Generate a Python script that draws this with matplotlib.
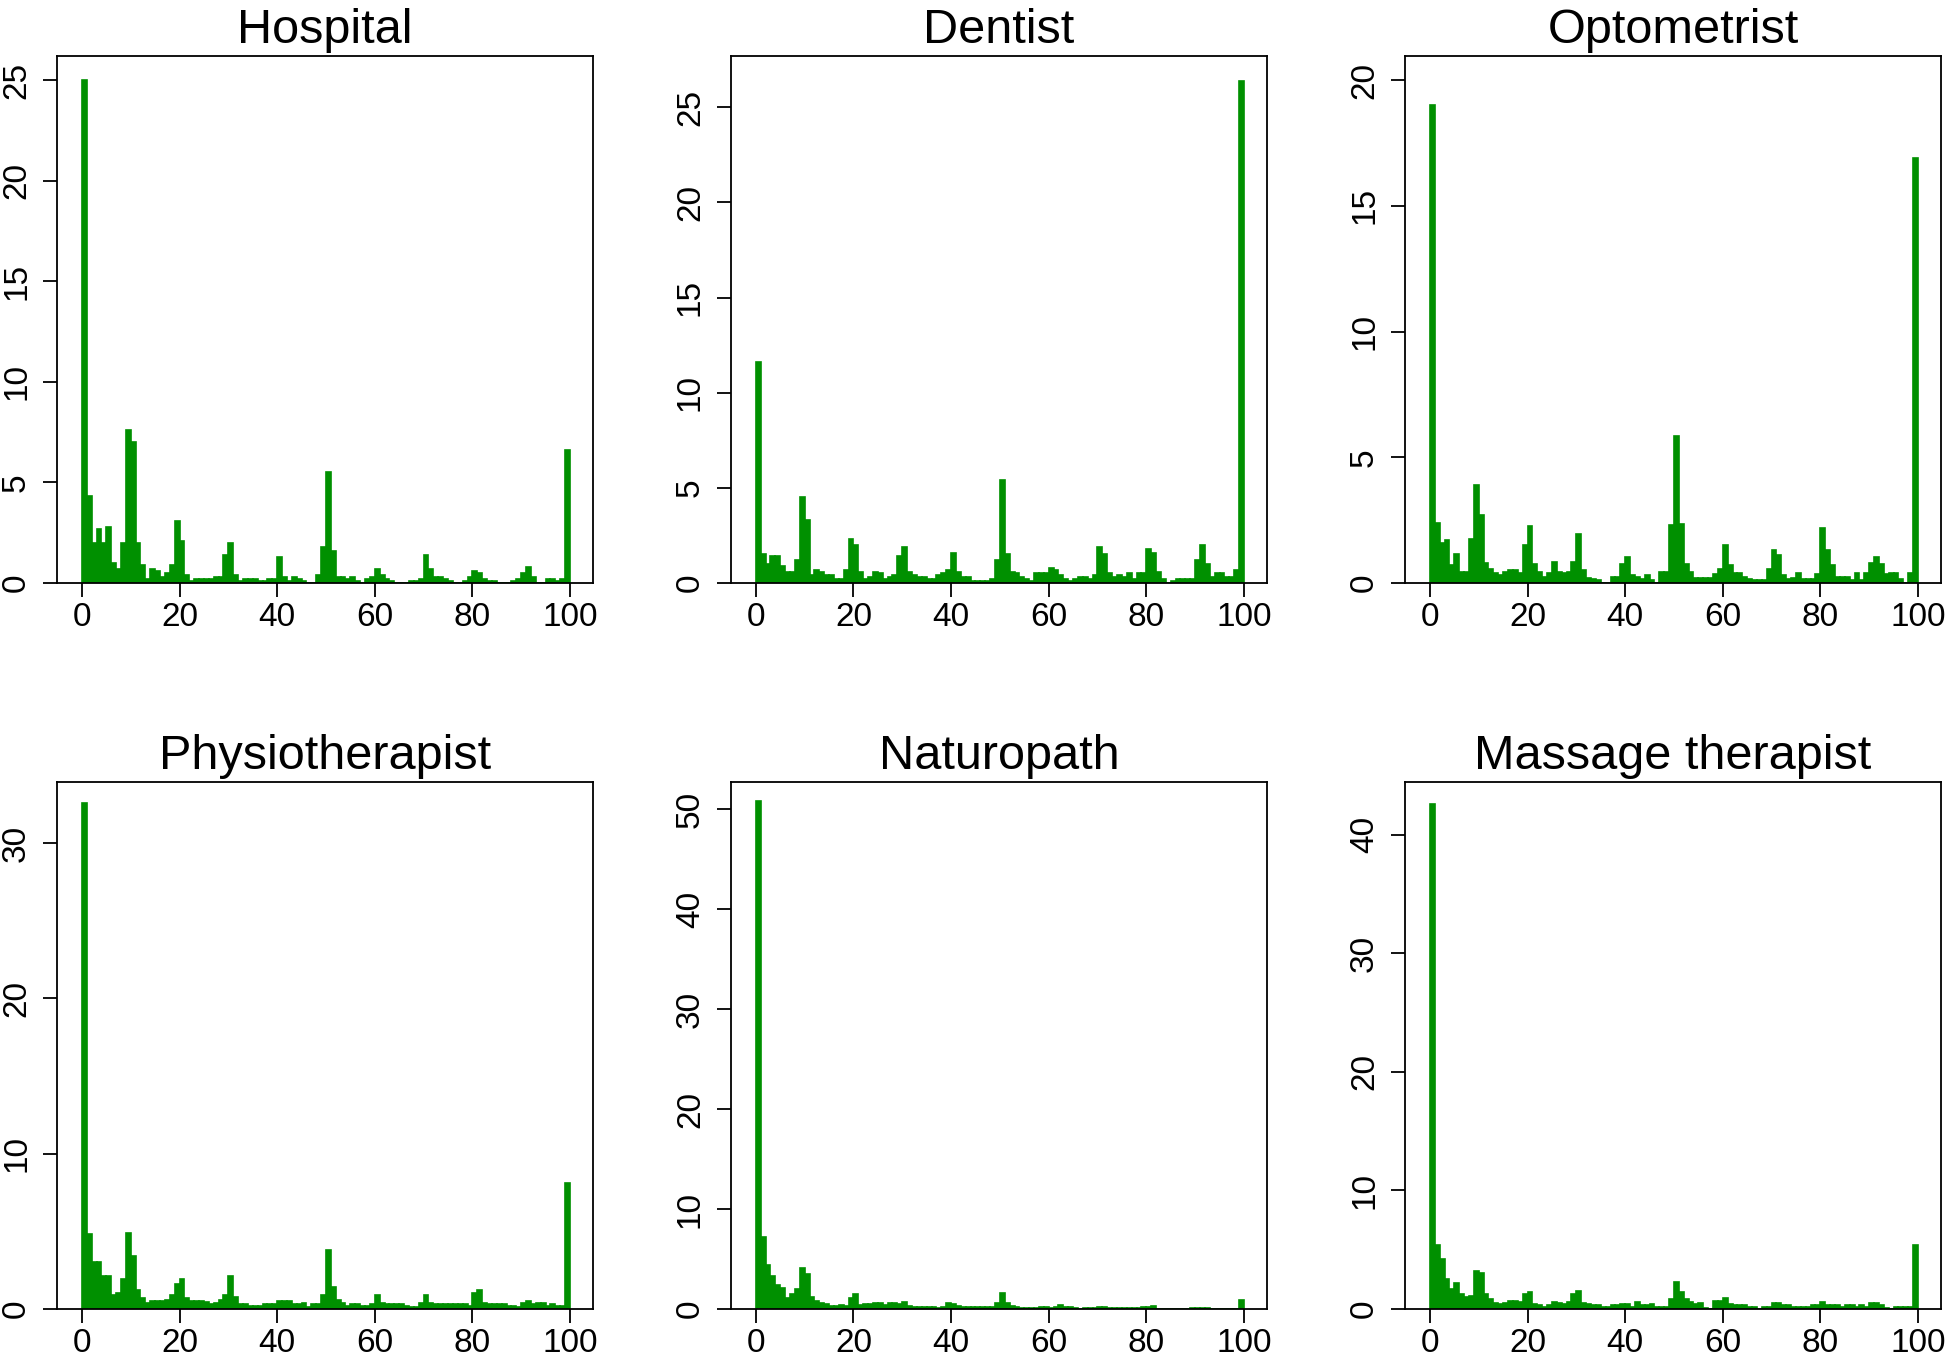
import numpy as np
import matplotlib
matplotlib.use("Agg")
import matplotlib.pyplot as plt

# -----------------------------------------
# Data (percent of respondents per 1-point bin, 0..100)
# -----------------------------------------

titles = ["Hospital", "Dentist", "Optometrist",
          "Physiotherapist", "Naturopath", "Massage therapist"]

hospital = [
    25.0, 4.3, 2.0, 2.7, 2.0, 2.8, 1.0, 0.7, 2.0, 7.6,
    7.0, 2.0, 0.9, 0.2, 0.7, 0.6, 0.3, 0.5, 0.9, 3.1,
    2.1, 0.4, 0.1, 0.2, 0.2, 0.2, 0.2, 0.3, 0.3, 1.4,
    2.0, 0.4, 0.1, 0.2, 0.2, 0.2, 0.1, 0.1, 0.2, 0.2,
    1.3, 0.3, 0.1, 0.3, 0.2, 0.1, 0.0, 0.0, 0.4, 1.8,
    5.5, 1.6, 0.3, 0.3, 0.2, 0.3, 0.1, 0.0, 0.2, 0.3,
    0.7, 0.4, 0.2, 0.1, 0.0, 0.0, 0.0, 0.1, 0.1, 0.2,
    1.4, 0.7, 0.3, 0.3, 0.2, 0.1, 0.0, 0.0, 0.1, 0.3,
    0.6, 0.5, 0.2, 0.1, 0.1, 0.0, 0.0, 0.0, 0.1, 0.2,
    0.5, 0.8, 0.3, 0.0, 0.0, 0.2, 0.2, 0.1, 0.2, 6.6,
]

dentist = [
    11.6, 1.5, 1.0, 1.4, 1.4, 0.9, 0.6, 0.6, 1.2, 4.5,
    3.3, 0.4, 0.7, 0.6, 0.4, 0.4, 0.2, 0.2, 0.7, 2.3,
    2.0, 0.6, 0.2, 0.3, 0.6, 0.5, 0.2, 0.3, 0.4, 1.4,
    1.9, 0.6, 0.4, 0.3, 0.3, 0.2, 0.2, 0.4, 0.5, 0.7,
    1.6, 0.6, 0.3, 0.3, 0.1, 0.1, 0.1, 0.1, 0.2, 1.2,
    5.4, 1.5, 0.6, 0.5, 0.3, 0.2, 0.1, 0.5, 0.5, 0.5,
    0.8, 0.7, 0.4, 0.2, 0.1, 0.2, 0.3, 0.3, 0.2, 0.4,
    1.9, 1.5, 0.5, 0.3, 0.4, 0.3, 0.5, 0.2, 0.5, 0.5,
    1.8, 1.6, 0.6, 0.2, 0.0, 0.1, 0.2, 0.2, 0.2, 0.2,
    1.2, 2.0, 1.0, 0.3, 0.5, 0.5, 0.3, 0.3, 0.7, 26.4,
]

optometrist = [
    19.0, 2.4, 1.6, 1.7, 0.7, 1.15, 0.45, 0.45, 1.75, 3.9,
    2.7, 0.8, 0.55, 0.4, 0.3, 0.45, 0.5, 0.5, 0.4, 1.5,
    2.25, 0.75, 0.45, 0.25, 0.4, 0.85, 0.45, 0.4, 0.45, 0.85,
    1.95, 0.5, 0.2, 0.15, 0.1, 0.0, 0.0, 0.25, 0.25, 0.75,
    1.05, 0.3, 0.25, 0.15, 0.3, 0.1, 0.0, 0.45, 0.45, 2.3,
    5.85, 2.35, 0.75, 0.45, 0.2, 0.2, 0.2, 0.2, 0.35, 0.55,
    1.5, 0.7, 0.4, 0.4, 0.25, 0.15, 0.1, 0.1, 0.1, 0.55,
    1.3, 1.1, 0.3, 0.15, 0.2, 0.4, 0.15, 0.15, 0.15, 0.35,
    2.2, 1.3, 0.7, 0.25, 0.25, 0.25, 0.1, 0.4, 0.1, 0.4,
    0.8, 1.05, 0.75, 0.35, 0.4, 0.4, 0.15, 0.0, 0.4, 16.9,
]

physiotherapist = [
    32.6, 4.8, 3.0, 3.0, 2.1, 2.1, 0.9, 1.0, 1.9, 4.9,
    3.4, 1.2, 0.7, 0.4, 0.5, 0.5, 0.5, 0.6, 0.9, 1.6,
    1.9, 0.7, 0.5, 0.5, 0.5, 0.45, 0.3, 0.4, 0.6, 0.9,
    2.1, 0.75, 0.3, 0.3, 0.2, 0.2, 0.2, 0.3, 0.3, 0.3,
    0.5, 0.5, 0.5, 0.3, 0.3, 0.4, 0.1, 0.3, 0.3, 0.9,
    3.8, 1.4, 0.6, 0.4, 0.2, 0.3, 0.3, 0.2, 0.2, 0.3,
    0.9, 0.4, 0.3, 0.35, 0.3, 0.3, 0.2, 0.1, 0.1, 0.4,
    0.9, 0.4, 0.3, 0.3, 0.3, 0.3, 0.3, 0.3, 0.3, 0.2,
    1.0, 1.2, 0.4, 0.3, 0.3, 0.3, 0.3, 0.2, 0.2, 0.1,
    0.4, 0.5, 0.3, 0.4, 0.4, 0.2, 0.3, 0.2, 0.2, 8.1,
]

naturopath = [
    50.8, 7.2, 4.4, 3.3, 2.4, 2.1, 1.1, 1.5, 2.0, 4.1,
    3.5, 1.2, 0.8, 0.6, 0.5, 0.3, 0.3, 0.4, 0.3, 1.1,
    1.5, 0.4, 0.5, 0.5, 0.6, 0.6, 0.4, 0.6, 0.6, 0.5,
    0.7, 0.3, 0.2, 0.2, 0.2, 0.2, 0.2, 0.1, 0.2, 0.6,
    0.5, 0.3, 0.2, 0.2, 0.2, 0.2, 0.2, 0.2, 0.2, 0.6,
    1.6, 0.6, 0.3, 0.2, 0.1, 0.1, 0.1, 0.1, 0.2, 0.2,
    0.1, 0.2, 0.4, 0.2, 0.2, 0.1, 0.0, 0.1, 0.1, 0.1,
    0.2, 0.2, 0.1, 0.1, 0.1, 0.1, 0.1, 0.1, 0.1, 0.2,
    0.2, 0.3, 0.0, 0.0, 0.0, 0.0, 0.0, 0.0, 0.0, 0.1,
    0.1, 0.1, 0.1, 0.0, 0.0, 0.0, 0.0, 0.0, 0.0, 0.9,
]

massage = [
    42.6, 5.4, 4.2, 2.5, 1.7, 2.2, 1.3, 1.0, 1.1, 3.2,
    3.0, 1.3, 0.8, 0.5, 0.4, 0.5, 0.7, 0.7, 0.6, 1.3,
    1.4, 0.4, 0.3, 0.2, 0.3, 0.6, 0.5, 0.4, 0.6, 1.3,
    1.5, 0.5, 0.4, 0.3, 0.3, 0.2, 0.2, 0.3, 0.3, 0.4,
    0.4, 0.2, 0.6, 0.3, 0.3, 0.4, 0.2, 0.2, 0.2, 0.8,
    2.3, 1.4, 0.8, 0.6, 0.4, 0.5, 0.1, 0.0, 0.7, 0.7,
    0.9, 0.4, 0.3, 0.3, 0.3, 0.2, 0.2, 0.0, 0.2, 0.2,
    0.5, 0.5, 0.3, 0.3, 0.2, 0.2, 0.2, 0.2, 0.3, 0.3,
    0.6, 0.3, 0.3, 0.3, 0.2, 0.3, 0.3, 0.2, 0.3, 0.2,
    0.5, 0.5, 0.3, 0.1, 0.0, 0.2, 0.2, 0.2, 0.2, 5.4,
]

series = [hospital, dentist, optometrist, physiotherapist, naturopath, massage]

# y axis settings per panel
y_tops = [26.17, 27.67, 20.94, 33.9, 52.7, 44.4]
y_steps = [5, 5, 5, 10, 10, 10]

bin_edges = np.arange(0, 101)
x_ticks = [0, 20, 40, 60, 80, 100]

# -----------------------------------------
# Figure
# -----------------------------------------

plt.rcParams["font.family"] = ["Liberation Sans", "DejaVu Sans"]

fig = plt.figure(figsize=(19.46, 13.57), dpi=100)

col_left = [0.0293, 0.3756, 0.7220]
col_width = 0.2754
row_bottom = [0.5704, 0.0354]
row_height = 0.3880

green = "#009000"

for i, (title, values) in enumerate(zip(titles, series)):

    r, c = divmod(i, 3)

    ax = fig.add_axes([col_left[c], row_bottom[r], col_width, row_height])

    # thin edge in the fill colour gives the chunkier look of the original
    ax.bar(bin_edges[:-1], values, width=1.0, align="edge",
           color=green, edgecolor=green, linewidth=1.2)

    ax.set_xlim(-5.1, 104.7)
    ax.set_ylim(0, y_tops[i])

    ax.set_xticks(x_ticks)
    ax.set_yticks(np.arange(0, y_tops[i], y_steps[i]))

    ax.tick_params(axis="both", direction="out", length=10, width=1.3,
                   labelsize=24)
    ax.tick_params(axis="x", pad=4)
    ax.tick_params(axis="y", pad=8)

    for lab in ax.get_yticklabels():
        lab.set_rotation(90)
        lab.set_va("center")

    for sp in ax.spines.values():
        sp.set_linewidth(1.3)
        sp.set_zorder(3)

    ax.set_title(title, fontsize=35, pad=10)

plt.savefig("out.png", dpi=100)
